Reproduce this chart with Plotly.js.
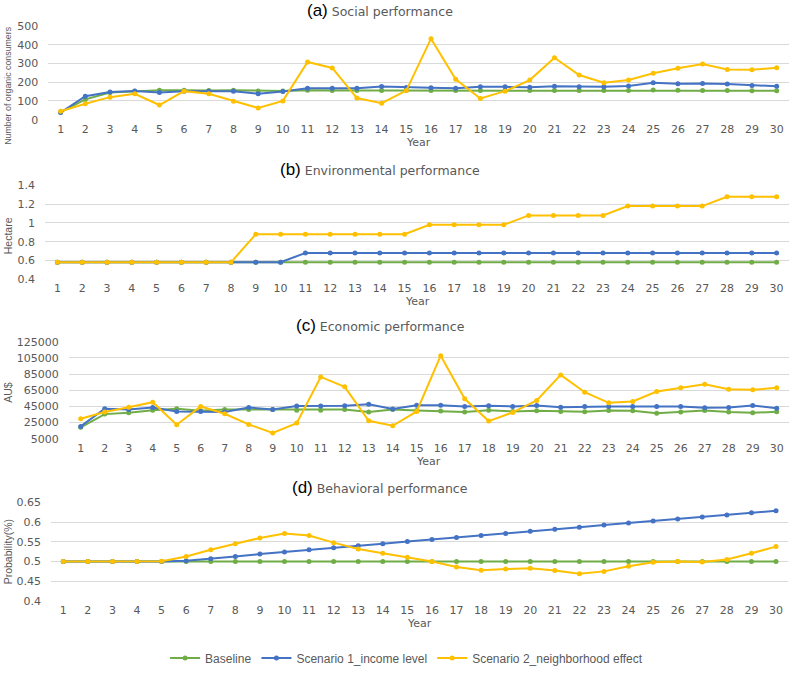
<!DOCTYPE html>
<html>
<head>
<meta charset="utf-8">
<script src="https://cdn.plot.ly/plotly-3.0.1.min.js"></script>
<style>html,body{margin:0;padding:0;background:#fff;}#chart{width:791px;height:673px;}</style>
</head>
<body>
<div id="chart"></div>
<script>
const years = [1,2,3,4,5,6,7,8,9,10,11,12,13,14,15,16,17,18,19,20,21,22,23,24,25,26,27,28,29,30];
const seriesNames = ['Baseline', 'Scenario 1_income level', 'Scenario 2_neighborhood effect'];

const socialBaseline = [40,108,145,152,157,157,155,157,153,153,157,155,155,155,155,155,156,155,155,156,156,156,156,156,158,157,156,155,154,154];
const socialS1 = [38,125,148,153,145,152,152,152,138,150,168,168,168,177,172,170,167,175,175,173,178,176,175,180,197,191,193,190,182,178];
const socialS2 = [45,85,120,138,78,152,138,98,62,100,308,276,115,88,155,432,215,113,152,211,330,238,197,212,247,274,297,268,266,277];

const envBaseline = [0.58,0.58,0.58,0.58,0.58,0.58,0.58,0.58,0.58,0.58,0.58,0.58,0.58,0.58,0.58,0.58,0.58,0.58,0.58,0.58,0.58,0.58,0.58,0.58,0.58,0.58,0.58,0.58,0.58,0.58];
const envS1 = [0.58,0.58,0.58,0.58,0.58,0.58,0.58,0.58,0.58,0.58,0.68,0.68,0.68,0.68,0.68,0.68,0.68,0.68,0.68,0.68,0.68,0.68,0.68,0.68,0.68,0.68,0.68,0.68,0.68,0.68];
const envS2 = [0.58,0.58,0.58,0.58,0.58,0.58,0.58,0.58,0.88,0.88,0.88,0.88,0.88,0.88,0.88,0.98,0.98,0.98,0.98,1.08,1.08,1.08,1.08,1.18,1.18,1.18,1.18,1.28,1.28,1.28];

const econBaseline = [19000,35400,37000,40300,42000,39500,41200,41200,41000,40300,40300,41200,37900,41000,39900,39100,37900,40300,38700,39500,38700,38300,39900,39500,36600,37900,39900,37900,37000,38300];
const econS1 = [20200,42000,41200,43600,38700,38700,37900,43600,41200,45300,45300,45700,47700,41600,46500,46500,44900,45700,44900,46100,44000,44900,44900,44900,44900,44900,43200,43600,46100,42800];
const econS2 = [29700,37900,44000,50200,22300,44900,35800,22700,12000,24300,81400,69100,27200,21000,38700,107700,54300,26800,37500,52300,83900,62500,49400,51000,63400,67900,72400,66200,65400,67900];

const behBaseline = [0.5,0.5,0.5,0.5,0.5,0.5,0.5,0.5,0.5,0.5,0.5,0.5,0.5,0.5,0.5,0.5,0.5,0.5,0.5,0.5,0.5,0.5,0.5,0.5,0.5,0.5,0.5,0.5,0.5,0.5];
const behS1 = [0.5,0.5,0.5,0.5,0.5,0.502,0.507,0.513,0.519,0.524,0.530,0.535,0.540,0.545,0.551,0.556,0.561,0.566,0.571,0.577,0.582,0.587,0.593,0.598,0.603,0.608,0.613,0.618,0.624,0.629];
const behS2 = [0.5,0.5,0.5,0.5,0.501,0.513,0.530,0.545,0.560,0.571,0.566,0.548,0.532,0.521,0.511,0.500,0.486,0.478,0.481,0.483,0.477,0.469,0.475,0.488,0.498,0.500,0.499,0.505,0.521,0.538];

const panelTitles = [['(a)', 'Social performance'], ['(b)', 'Environmental performance'], ['(c)', 'Economic performance'], ['(d)', 'Behavioral performance']];
const yTitles = ['Number of organic consumers', 'Hectare', 'AU$', 'Probability(%)'];
const xTitle = 'Year';

const colors = ['#70AD47', '#4472C4', '#FFC000'];
const panels = [
  [socialBaseline, socialS1, socialS2],
  [envBaseline, envS1, envS2],
  [econBaseline, econS1, econS2],
  [behBaseline, behS1, behS2]
];

const H = 673, W = 791;
// pixel boxes of each plot area: [left, right, top, bottom]
const boxes = [[48.3, 789, 26, 120], [45, 789, 186, 280], [68.7, 788.7, 342.7, 440], [51, 788.3, 504, 602.7]];
const yRanges = [[0, 500], [0.4, 1.4], [5000, 125000], [0.4, 0.65]];
const yDticks = [100, 0.2, 20000, 0.05];
const yTitleCenters = [86, 237, 394, 554];
const yTitleSizes = [8.8, 10.5, 10.5, 10.5];
const titleY = [11, 170, 326, 489];
const yearY = [143, 302, 463, 625];

const traces = [];
panels.forEach((set, p) => {
  set.forEach((vals, s) => {
    traces.push({
      x: years, y: vals, type: 'scatter', mode: 'lines+markers',
      name: seriesNames[s],
      xaxis: p === 0 ? 'x' : 'x' + (p + 1),
      yaxis: p === 0 ? 'y' : 'y' + (p + 1),
      line: {color: colors[s], width: 2},
      marker: {color: colors[s], size: 5},
      showlegend: p === 0,
      legendgroup: seriesNames[s]
    });
  });
});

const tickFont = {family: 'DejaVu Sans, Arial, sans-serif', size: 11, color: '#595959'};
const layout = {
  width: W, height: H,
  margin: {l: 0, r: 0, t: 0, b: 0},
  paper_bgcolor: '#ffffff', plot_bgcolor: '#ffffff',
  showlegend: true,
  legend: {orientation: 'h', x: 0.514, xanchor: 'center', y: 1 - 660 / H, yanchor: 'middle',
    font: {family: 'Liberation Sans, Arial, sans-serif', size: 12, color: '#595959'},
    itemwidth: 30, tracegroupgap: 0},
  annotations: []
};

const fy = px => 1 - px / H;
const fx = px => px / W;

boxes.forEach((b, p) => {
  const xa = p === 0 ? 'xaxis' : 'xaxis' + (p + 1);
  const ya = p === 0 ? 'yaxis' : 'yaxis' + (p + 1);
  const yid = p === 0 ? 'y' : 'y' + (p + 1);
  const xid = p === 0 ? 'x' : 'x' + (p + 1);
  layout[xa] = {
    domain: [fx(b[0]), fx(b[1])], anchor: yid, range: [0.5, 30.5], tickmode: 'linear', tick0: 1, dtick: 1,
    showgrid: false, showline: false, zeroline: false, ticks: '', tickfont: tickFont, ticklabelstandoff: 1
  };
  layout[ya] = {
    domain: [fy(b[3]), fy(b[2])], anchor: xid, range: yRanges[p], tickmode: 'linear', tick0: yRanges[p][0], dtick: yDticks[p],
    tickformat: p === 2 ? 'd' : '',
    showgrid: true, gridcolor: '#d9d9d9', gridwidth: 1, zeroline: false, showline: false, ticks: '',
    tickfont: tickFont, ticklabelstandoff: 9
  };
  layout.annotations.push({
    xref: 'paper', yref: 'paper', x: fx(380), y: fy(titleY[p]), xanchor: 'center', yanchor: 'middle', showarrow: false,
    text: '<span style="font-size:17px;color:#000000;font-family:Liberation Sans, Arial">' + panelTitles[p][0] + '</span> ' + panelTitles[p][1],
    font: {family: 'DejaVu Sans, Arial, sans-serif', size: 12.5, color: '#595959'}
  });
  layout.annotations.push({
    xref: 'paper', yref: 'paper', x: fx(8), y: fy(yTitleCenters[p]), xanchor: 'center', yanchor: 'middle', showarrow: false,
    textangle: -90, text: yTitles[p],
    font: {family: 'Liberation Sans Narrow, Arial Narrow, Liberation Sans, Arial, sans-serif', size: yTitleSizes[p], color: '#595959'}
  });
  layout.annotations.push({
    xref: 'paper', yref: 'paper', x: fx((b[0] + b[1]) / 2), y: fy(yearY[p]), xanchor: 'center', yanchor: 'middle', showarrow: false,
    text: xTitle, font: {family: 'DejaVu Sans, Arial, sans-serif', size: 11, color: '#595959'}
  });
});

Plotly.newPlot('chart', traces, layout, {displayModeBar: false, staticPlot: true});
</script>
</body>
</html>
